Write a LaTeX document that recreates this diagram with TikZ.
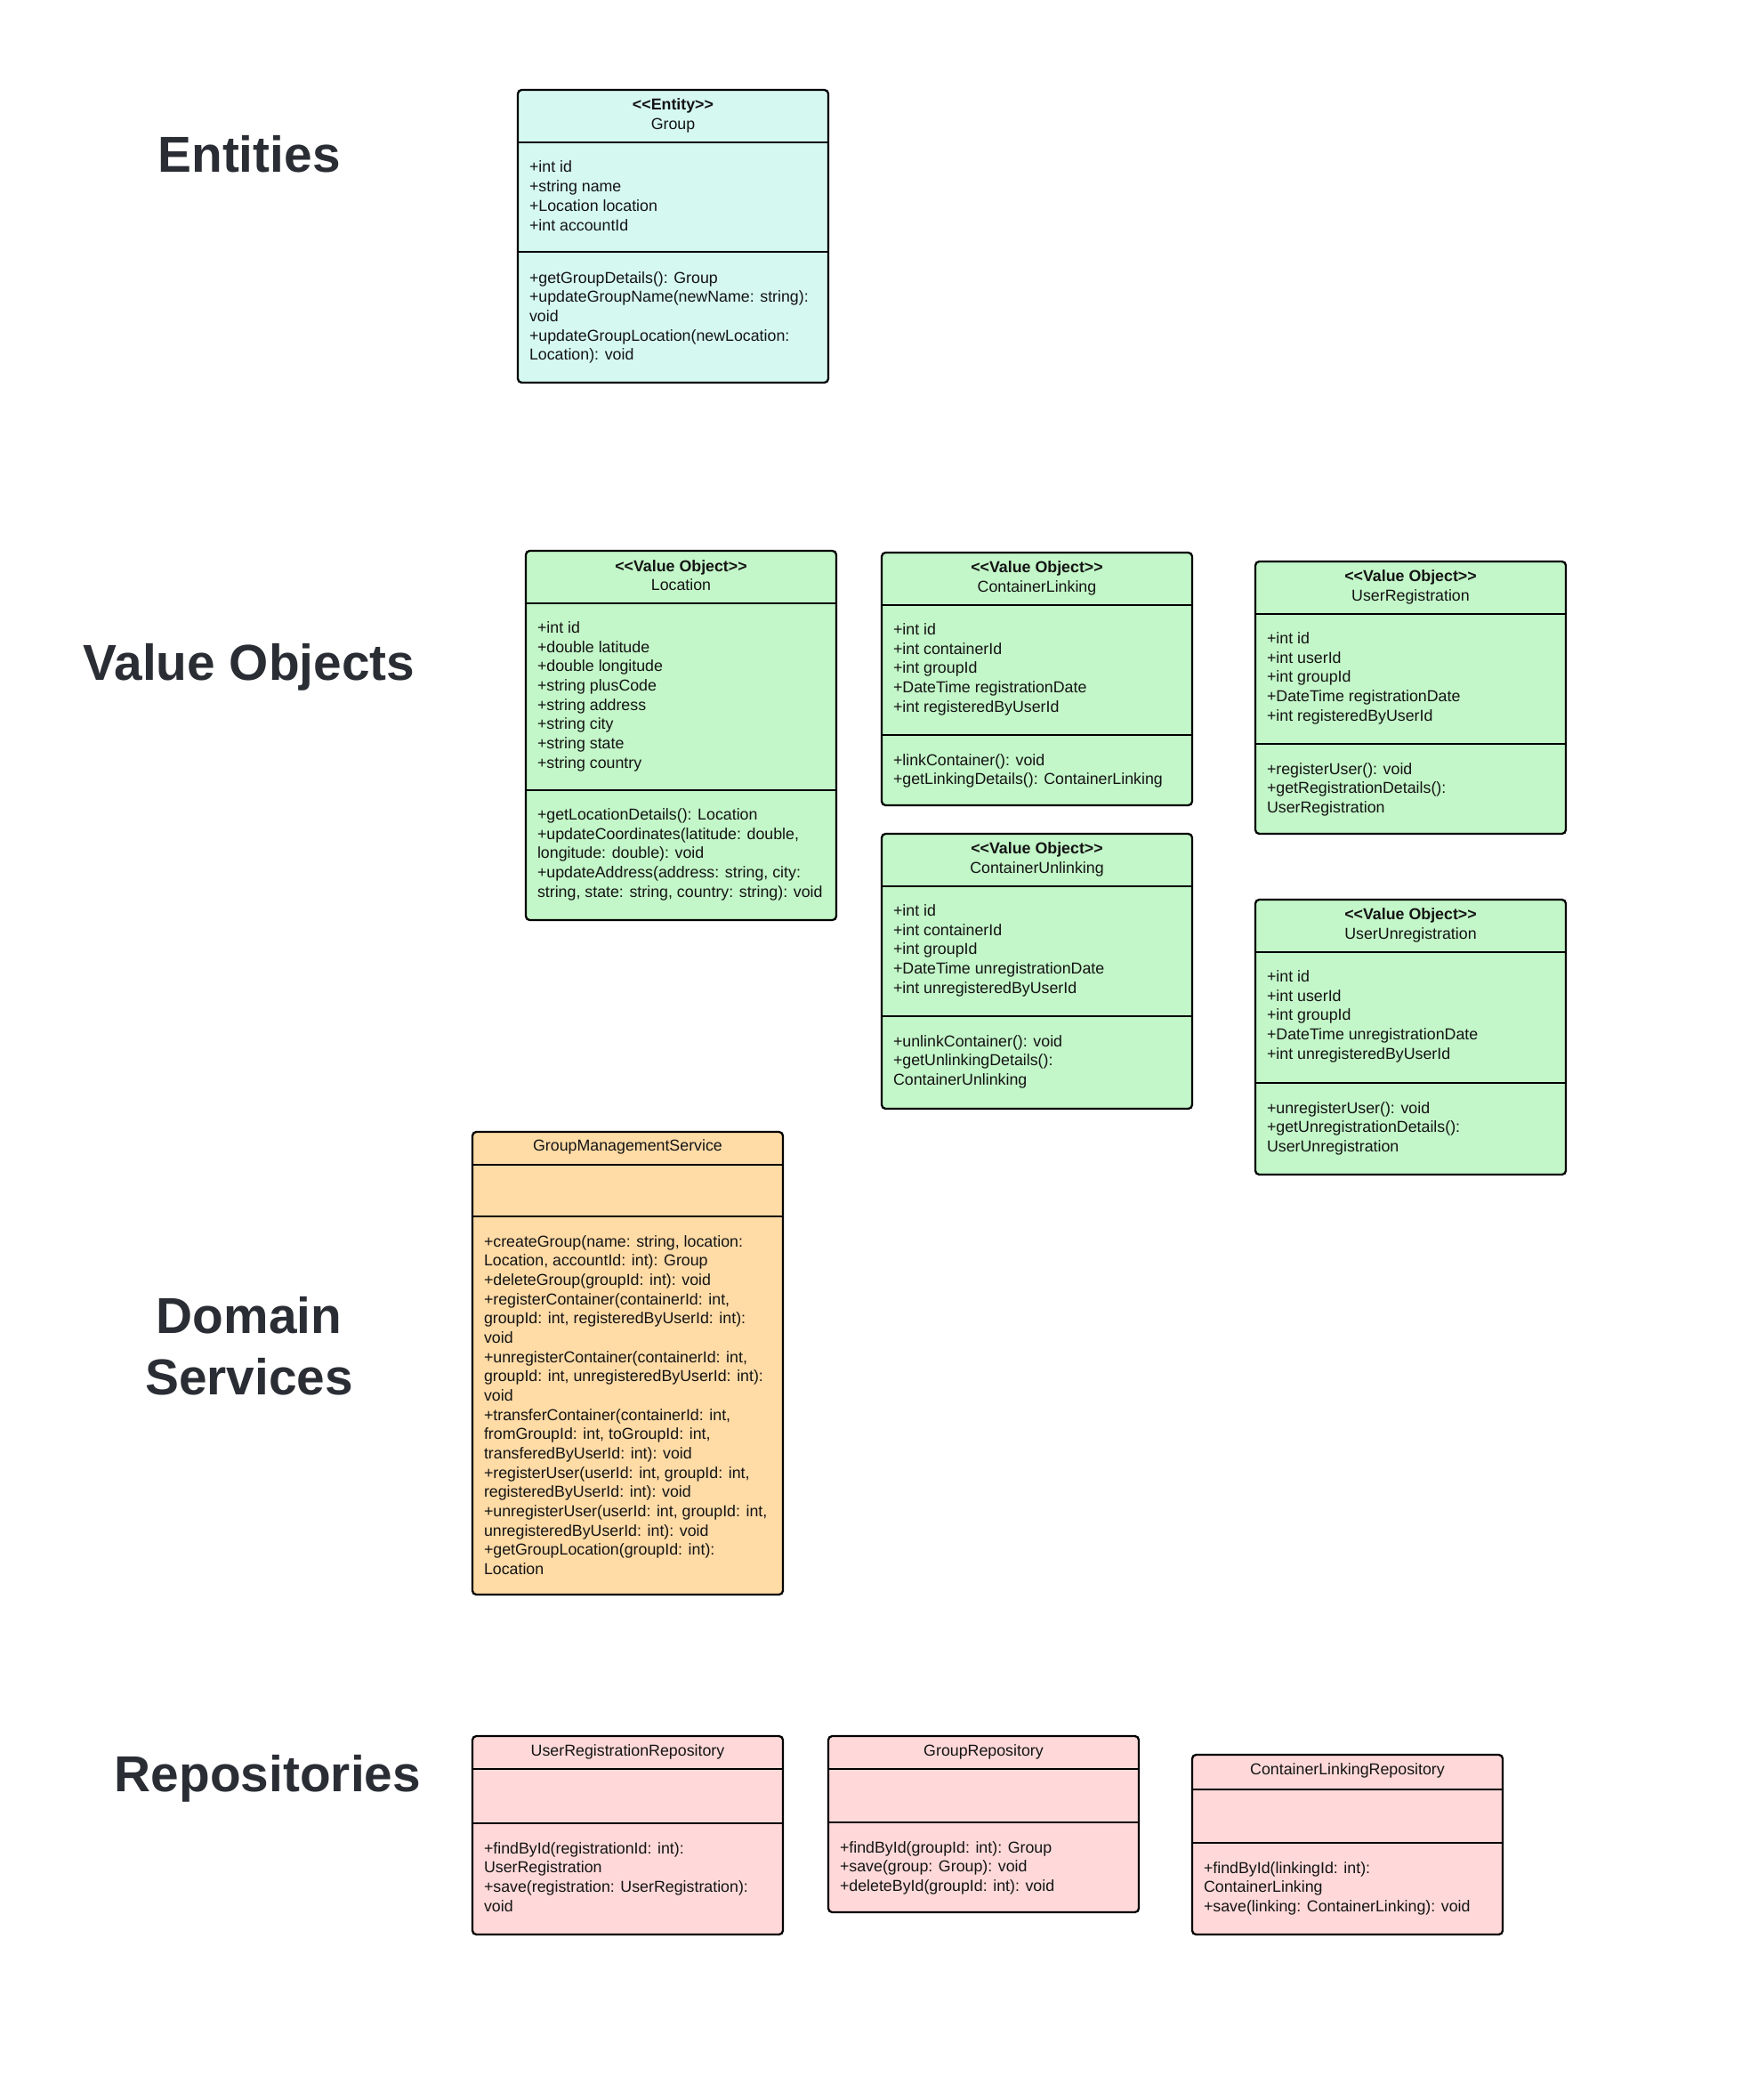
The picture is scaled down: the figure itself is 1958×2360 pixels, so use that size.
\documentclass[tikz,border=0pt]{standalone}
\usepackage{fontspec}
\setmainfont{Liberation Sans}[Ligatures=TeXOff]
\definecolor{entfill}{RGB}{213,248,241}
\definecolor{vofill}{RGB}{195,246,200}
\definecolor{svcfill}{RGB}{255,219,166}
\definecolor{repofill}{RGB}{255,217,217}
\definecolor{titlecol}{RGB}{42,45,52}
\definecolor{txtcol}{RGB}{20,20,20}
\tikzset{
  umlframe/.style={draw=black, line width=1.15pt, rounded corners=2.2pt, inner sep=0pt, outer sep=0pt, anchor=north west},
  umldivider/.style={draw=black, line width=1.15pt},
  umltext/.style={anchor=base west, inner sep=0pt, outer sep=0pt, text=txtcol, font=\fontsize{8.9}{10.8}\selectfont},
  umlhead/.style={anchor=base, inner sep=0pt, outer sep=0pt, text=txtcol, font=\fontsize{8.9}{10.8}\selectfont},
  sectiontitle/.style={anchor=base, inner sep=0pt, outer sep=0pt, text=titlecol, font=\fontsize{28.4}{34}\selectfont\bfseries},
}
% frame: name, fill, left, top, right, divider1, divider2, bottom
\newcommand\umlframebox[8]{%
  \node[umlframe, fill=#2, minimum width={(#5-#3)*0.5pt}, minimum height={(#8-#4)*0.5pt}] (#1) at (#3,#4) {};
  \draw[umldivider] (#3,#6) -- (#5,#6);
  \draw[umldivider] (#3,#7) -- (#5,#7);
}
% centred header lines: name, centre x, first baseline y, list
\newcommand\umlheadlines[4]{%
  \foreach \ln [count=\i from 0] in {#4} {\node[umlhead] (#1-\i) at (#2,#3+\i*21.67) {\ln};}%
}
% left aligned lines: name, x, first baseline y, list
\newcommand\umlbodylines[4]{%
  \foreach \ln [count=\i from 0] in {#4} {\node[umltext] (#1-\i) at (#2,#3+\i*21.67) {\ln};}%
}
\begin{document}
\begin{tikzpicture}[x=0.5pt,y=-0.5pt]
\path[use as bounding box, fill=white] (0,0) rectangle (1958,2360);

% section titles
\node[sectiontitle] (tEnt) at (280,194) {Entities};
\node[sectiontitle] (tVO) at (280,764) {Value Objects};
\node[sectiontitle] (tDS1) at (280,1498) {Domain};
\node[sectiontitle] (tDS2) at (280,1567) {Services};
\node[sectiontitle] (tRep) at (301,2013) {Repositories};

% Group entity
\umlframebox{grp}{entfill}{582}{101}{931}{160}{283}{430}
\umlheadlines{grph}{756.5}{123.5}{{\bfseries <<Entity>>},Group}
\umlbodylines{grpa}{595}{194}{{+int id},{+string name},{+Location location},{+int accountId}}
\umlbodylines{grpm}{595}{318}{{+getGroupDetails(): Group},{+updateGroupName(newName: string):},{void},{+updateGroupLocation(newLocation:},{Location): void}}

% Location
\umlframebox{loc}{vofill}{591}{619}{940}{678}{888}{1034}
\umlheadlines{loch}{765.5}{642}{{\bfseries <<Value Object>>},Location}
\umlbodylines{loca}{604}{711.5}{{+int id},{+double latitude},{+double longitude},{+string plusCode},{+string address},{+string city},{+string state},{+string country}}
\umlbodylines{locm}{604}{921.5}{{+getLocationDetails(): Location},{+updateCoordinates(latitude: double,},{longitude: double): void},{+updateAddress(address: string, city:},{string, state: string, country: string): void}}

% ContainerLinking
\umlframebox{cl}{vofill}{991}{621}{1340}{680}{826}{905}
\umlheadlines{clh}{1165.5}{643.5}{{\bfseries <<Value Object>>},ContainerLinking}
\umlbodylines{cla}{1004}{713.5}{{+int id},{+int containerId},{+int groupId},{+DateTime registrationDate},{+int registeredByUserId}}
\umlbodylines{clm}{1004}{860}{{+linkContainer(): void},{+getLinkingDetails(): ContainerLinking}}

% UserRegistration
\umlframebox{ur}{vofill}{1411}{631}{1760}{690}{836}{937}
\umlheadlines{urh}{1585.5}{653.5}{{\bfseries <<Value Object>>},UserRegistration}
\umlbodylines{ura}{1424}{723.5}{{+int id},{+int userId},{+int groupId},{+DateTime registrationDate},{+int registeredByUserId}}
\umlbodylines{urm}{1424}{870}{{+registerUser(): void},{+getRegistrationDetails():},{UserRegistration}}

% ContainerUnlinking
\umlframebox{cu}{vofill}{991}{937}{1340}{996}{1142}{1246}
\umlheadlines{cuh}{1165.5}{959.5}{{\bfseries <<Value Object>>},ContainerUnlinking}
\umlbodylines{cua}{1004}{1029.5}{{+int id},{+int containerId},{+int groupId},{+DateTime unregistrationDate},{+int unregisteredByUserId}}
\umlbodylines{cum}{1004}{1176}{{+unlinkContainer(): void},{+getUnlinkingDetails():},{ContainerUnlinking}}

% UserUnregistration
\umlframebox{uu}{vofill}{1411}{1011}{1760}{1070}{1217}{1320}
\umlheadlines{uuh}{1585.5}{1033.5}{{\bfseries <<Value Object>>},UserUnregistration}
\umlbodylines{uua}{1424}{1103.5}{{+int id},{+int userId},{+int groupId},{+DateTime unregistrationDate},{+int unregisteredByUserId}}
\umlbodylines{uum}{1424}{1251}{{+unregisterUser(): void},{+getUnregistrationDetails():},{UserUnregistration}}

% GroupManagementService
\umlframebox{gms}{svcfill}{531}{1272}{880}{1309}{1367}{1792}
\umlheadlines{gmsh}{705.5}{1293}{{GroupManagementService}}
\umlbodylines{gmsm}{544}{1401}{{+createGroup(name: string, location:},{Location, accountId: int): Group},{+deleteGroup(groupId: int): void},{+registerContainer(containerId: int,},{groupId: int, registeredByUserId: int):},{void},{+unregisterContainer(containerId: int,},{groupId: int, unregisteredByUserId: int):},{void},{+transferContainer(containerId: int,},{fromGroupId: int, toGroupId: int,},{transferedByUserId: int): void},{+registerUser(userId: int, groupId: int,},{registeredByUserId: int): void},{+unregisterUser(userId: int, groupId: int,},{unregisteredByUserId: int): void},{+getGroupLocation(groupId: int):},{Location}}

% UserRegistrationRepository
\umlframebox{urr}{repofill}{531}{1951}{880}{1988}{2049}{2174}
\umlheadlines{urrh}{705.5}{1973}{{UserRegistrationRepository}}
\umlbodylines{urrm}{544}{2083}{{+findById(registrationId: int):},{UserRegistration},{+save(registration: UserRegistration):},{void}}

% GroupRepository
\umlframebox{gr}{repofill}{931}{1951}{1280}{1988}{2048}{2149}
\umlheadlines{grh}{1105.5}{1973}{{GroupRepository}}
\umlbodylines{grm}{944}{2082}{{+findById(groupId: int): Group},{+save(group: Group): void},{+deleteById(groupId: int): void}}

% ContainerLinkingRepository
\umlframebox{clr}{repofill}{1340}{1972}{1689}{2011}{2071}{2174}
\umlheadlines{clrh}{1514.5}{1994}{{ContainerLinkingRepository}}
\umlbodylines{clrm}{1353}{2105}{{+findById(linkingId: int):},{ContainerLinking},{+save(linking: ContainerLinking): void}}
\end{tikzpicture}
\end{document}
